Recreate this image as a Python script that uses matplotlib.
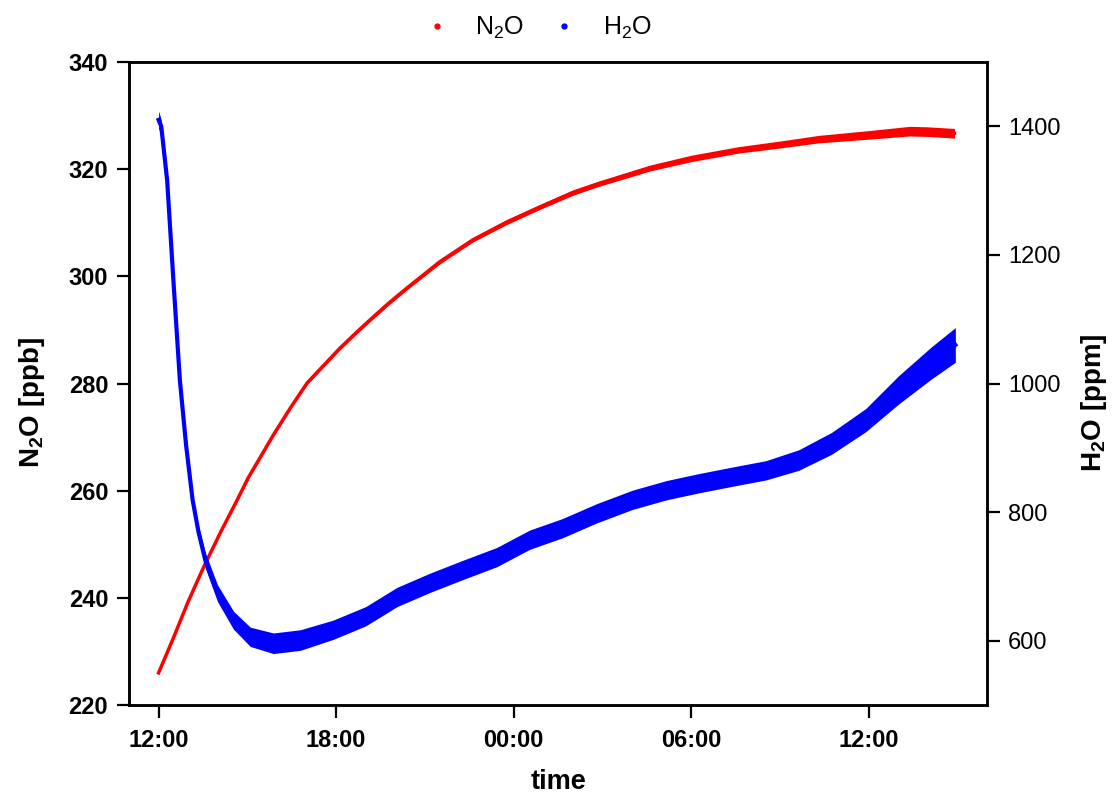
import numpy as np
import matplotlib
matplotlib.use("Agg")
import matplotlib.pyplot as plt
import matplotlib.dates as mdates
from matplotlib import font_manager
from matplotlib.lines import Line2D

# keep the bold labels off the narrow Liberation face
font_manager.fontManager.ttflist = [f for f in font_manager.fontManager.ttflist
                                    if 'Narrow' not in f.name]
plt.rcParams['font.family'] = ['Liberation Sans', 'DejaVu Sans']
plt.rcParams['mathtext.default'] = 'regular'

# hours after 12:00 on day 1
n2o_hours = [0.0, 0.5, 1.0, 1.52, 2.1, 2.66, 3.03, 3.88, 4.45, 5.02, 5.6,
             6.13, 6.7, 7.25, 7.8, 8.39, 9.50, 10.62, 11.76, 12.87, 13.99,
             14.83, 16.6, 18.0, 19.6, 21.0, 22.3, 24.0, 25.4, 26.0, 26.9]
n2o_ppb = [226.0, 232.5, 239.3, 245.7, 252.3, 258.3, 262.4, 270.4, 275.4,
           280.1, 283.5, 286.6, 289.6, 292.4, 295.1, 297.8, 302.7, 306.8,
           310.1, 312.9, 315.6, 317.2, 320.2, 322.0, 323.6, 324.6, 325.6,
           326.4, 327.1, 327.0, 326.7]
n2o_spread = [0.2, 0.2, 0.2, 0.2, 0.2, 0.2, 0.25, 0.25, 0.25, 0.3, 0.3,
              0.3, 0.3, 0.35, 0.35, 0.35, 0.4, 0.4, 0.45, 0.45, 0.5,
              0.5, 0.55, 0.6, 0.6, 0.65, 0.7, 0.8, 0.9, 0.9, 0.9]

h2o_hours = [0.0, 0.09, 0.29, 0.50, 0.72, 0.93, 1.15, 1.35, 1.58, 1.99,
             2.53, 3.10, 3.88, 4.79, 5.90, 7.0, 8.06, 9.17, 10.28, 11.43,
             12.54, 13.65, 14.80, 16.01, 17.16, 18.27, 19.38, 20.53, 21.64,
             22.75, 23.90, 25.01, 26.12, 26.93]
h2o_ppm = [1410, 1400, 1316, 1161, 1005, 904, 819, 769, 725, 674,
           632, 606, 596, 601, 617, 638, 668, 690, 710, 730,
           757, 775, 798, 819, 834, 845, 855, 865, 881,
           907, 943, 990, 1032, 1060]
h2o_spread = [14, 10, 6, 6, 6, 6, 8, 10, 12, 13,
              14, 15, 16, 16, 15, 15, 15, 15, 15, 15,
              15, 15, 15, 15, 15, 15, 15, 15, 16,
              17, 18, 22, 25, 27]

x_ticks = [0, 6, 12, 18, 24]

t0 = np.datetime64('2021-06-01T12:00')


def to_time(h):
    return t0 + (np.array(h) * 3600).astype('timedelta64[s]')


tn = to_time(n2o_hours)
th = to_time(h2o_hours)
n2o = np.array(n2o_ppb)
h2o = np.array(h2o_ppm)
dn = np.array(n2o_spread)
dh = np.array(h2o_spread)

fig = plt.figure(figsize=(11.12, 7.94), dpi=100)
ax = fig.add_axes([0.1160, 0.1121, 0.7716, 0.8098])
ax2 = ax.twinx()

ax.fill_between(tn, n2o - dn, n2o + dn, color='red', lw=0)
ax.plot(tn, n2o, color='red', lw=2.5)
ax2.fill_between(th, h2o - dh, h2o + dh, color='blue', lw=0)
ax2.plot(th, h2o, color='blue', lw=3)

ax.set_xlim(to_time([-1.0])[0], to_time([28.0])[0])
ax.set_ylim(220, 340)
ax2.set_ylim(500, 1500)
ax.set_yticks([220, 240, 260, 280, 300, 320, 340])
ax2.set_yticks([600, 800, 1000, 1200, 1400])
ax.set_xticks(to_time(x_ticks))
ax.xaxis.set_major_formatter(mdates.DateFormatter('%H:%M'))

for a in (ax, ax2):
    for s in a.spines.values():
        s.set_linewidth(1.8)
ax.tick_params(axis='both', direction='out', length=9, width=1.6,
               labelsize=17, pad=6)
ax.tick_params(axis='x', pad=8)
ax2.tick_params(axis='y', direction='out', length=9, width=1.6,
                labelsize=17, pad=6)
for lab in ax.get_xticklabels() + ax.get_yticklabels():
    lab.set_fontweight('bold')

ax.set_xlabel('time', fontsize=19.5, fontweight='bold')
ax.set_ylabel('N$_2$O [ppb]', fontsize=20, fontweight='bold')
ax2.set_ylabel('H$_2$O [ppm]', fontsize=20, fontweight='bold')
ax.xaxis.set_label_coords(0.5, -0.099)
ax.yaxis.set_label_coords(-0.095, 0.47)
ax2.yaxis.set_label_coords(1.107, 0.47)

handles = [Line2D([], [], ls='none', marker='.', color='red', markersize=7),
           Line2D([], [], ls='none', marker='.', color='blue', markersize=7)]
fig.legend(handles, ['N$_2$O', 'H$_2$O'], loc='center', ncol=2,
           bbox_to_anchor=(0.484, 0.965), frameon=False, fontsize=18,
           handlelength=1.0, handletextpad=1.05, columnspacing=1.1)

plt.savefig('out.png', dpi=100)
